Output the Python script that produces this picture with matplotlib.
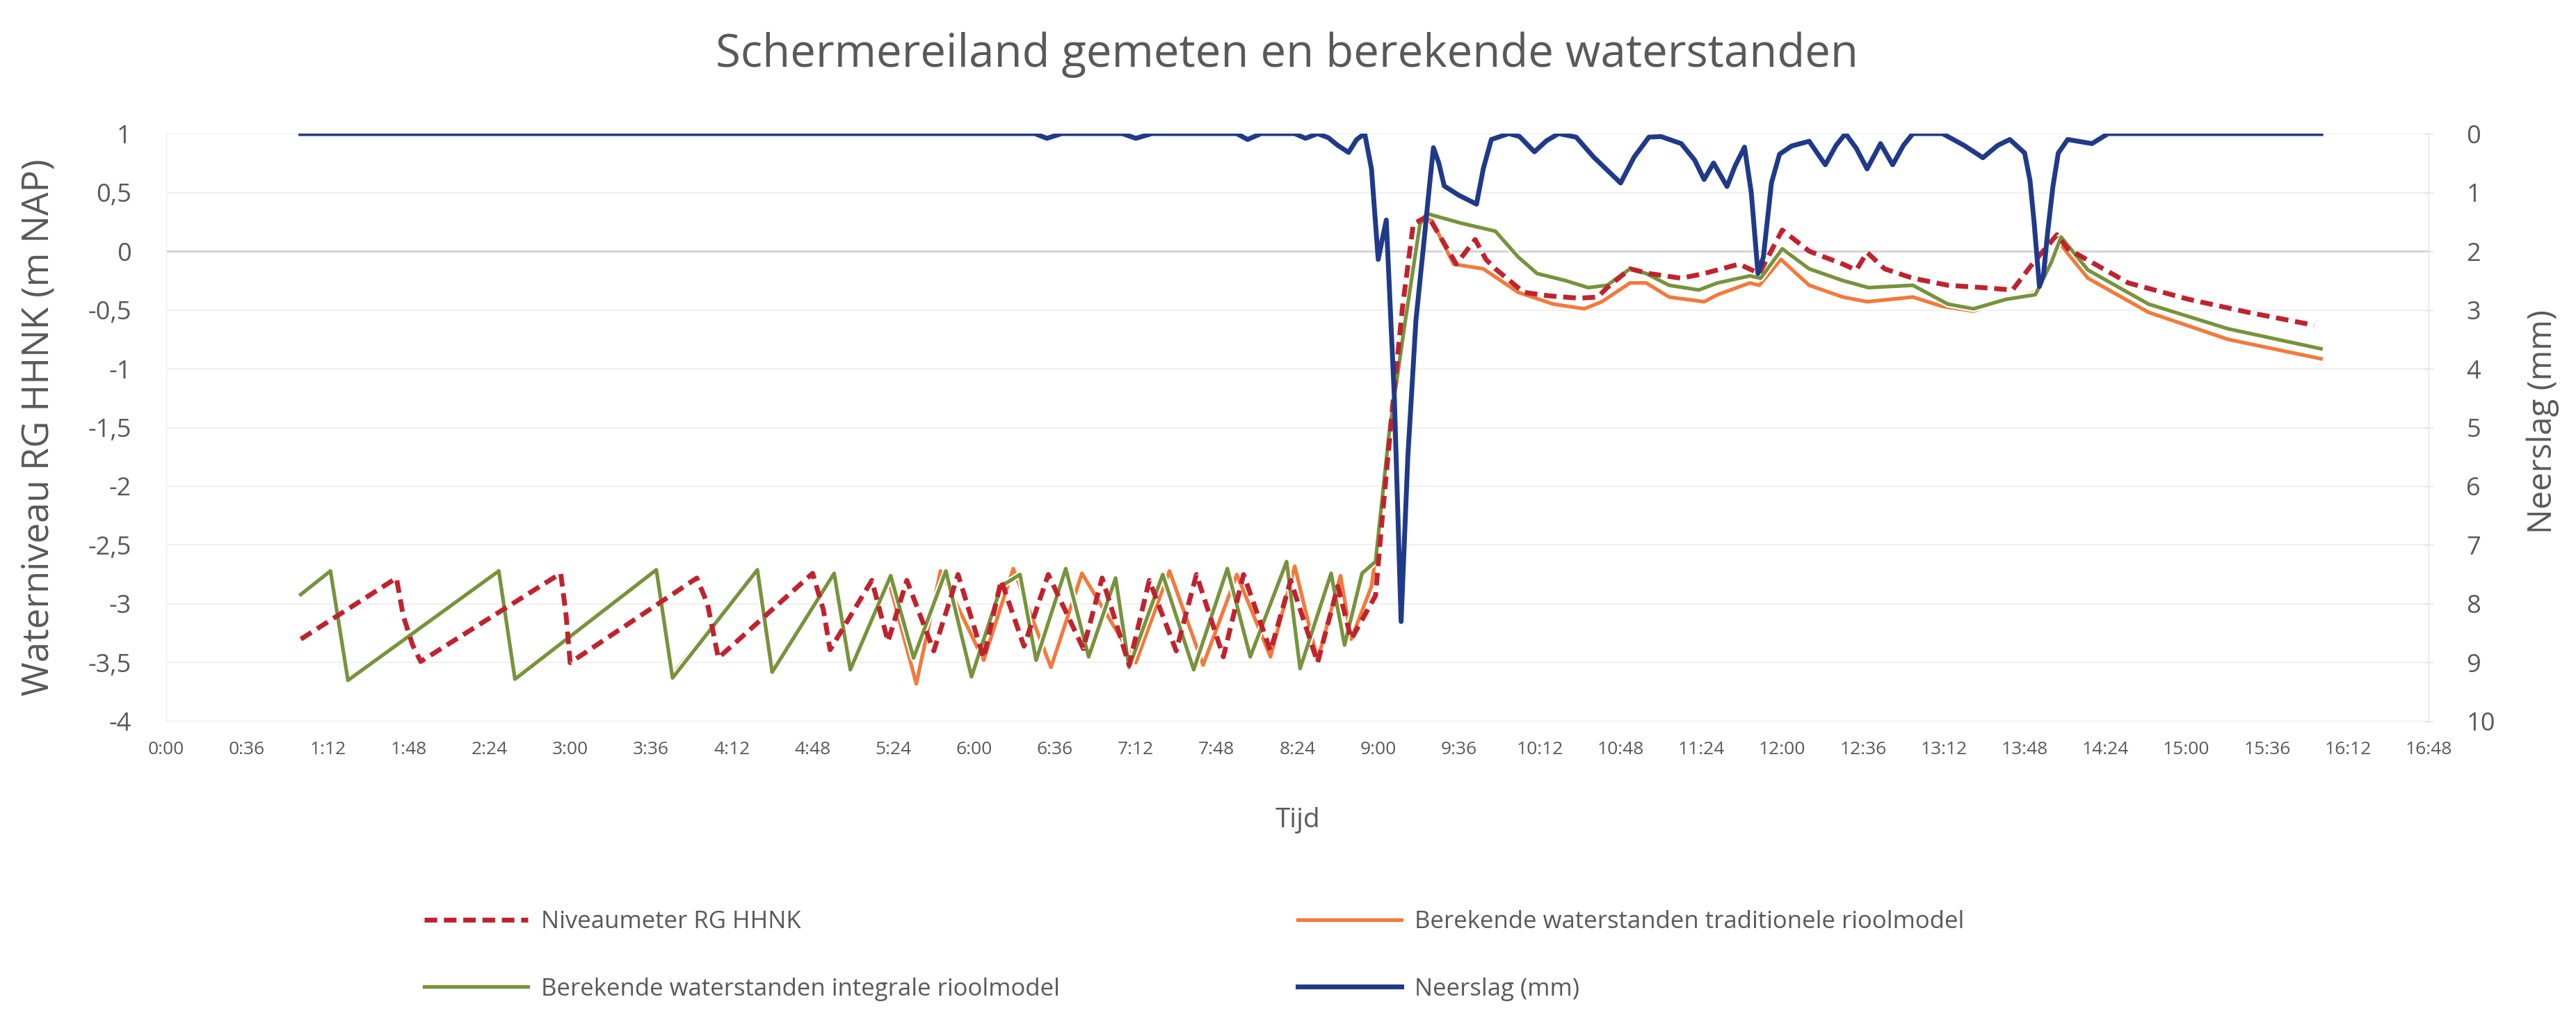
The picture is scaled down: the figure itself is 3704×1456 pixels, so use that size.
import matplotlib
matplotlib.use("Agg")
import matplotlib.pyplot as plt
import matplotlib.patheffects as pe

# tijd in uren vanaf 0:00, waterniveau in m NAP, neerslag in mm
niveau_t = [1.00, 1.71, 1.76, 1.83, 1.89, 2.93, 2.97, 3.00, 3.94, 4.02, 4.10, 4.80, 4.88, 4.93,
            5.24, 5.36, 5.50, 5.70, 5.88, 6.07, 6.20, 6.37, 6.55, 6.81, 6.95, 7.15, 7.30, 7.50,
            7.65, 7.85, 8.00, 8.20, 8.35, 8.55, 8.70, 8.80, 8.98, 9.03, 9.10, 9.18, 9.26, 9.37,
            9.58, 9.72, 9.80, 9.87, 10.08, 10.27, 10.49, 10.63, 10.70, 10.87, 11.01, 11.25, 11.42,
            11.68, 11.83, 12.00, 12.20, 12.45, 12.55, 12.63, 12.76, 12.97, 13.23, 13.49, 13.71,
            13.87, 14.04, 14.12, 14.57, 15.02, 15.46, 15.95]
niveau_v = [-3.30, -2.78, -3.10, -3.35, -3.49, -2.74, -3.10, -3.50, -2.78, -3.00, -3.46, -2.74, -3.05, -3.39,
            -2.80, -3.32, -2.80, -3.40, -2.75, -3.46, -2.80, -3.36, -2.75, -3.38, -2.78, -3.52, -2.80, -3.40,
            -2.75, -3.45, -2.75, -3.40, -2.80, -3.50, -2.85, -3.30, -2.93, -2.27, -1.40, -0.48, 0.23, 0.30,
            -0.11, 0.10, -0.07, -0.15, -0.35, -0.38, -0.40, -0.39, -0.31, -0.15, -0.19, -0.23, -0.19,
            -0.11, -0.19, 0.18, 0.00, -0.11, -0.16, -0.01, -0.15, -0.23, -0.29, -0.31, -0.33,
            -0.09, 0.14, 0.02, -0.27, -0.41, -0.52, -0.63]

trad_t = [1.00, 1.22, 1.35, 2.47, 2.59, 3.64, 3.76, 4.39, 4.50, 4.96, 5.08, 5.36, 5.57, 5.75,
          6.07, 6.29, 6.57, 6.80, 7.20, 7.45, 7.70, 7.95, 8.20, 8.38, 8.55, 8.72, 8.80, 8.95,
          9.05, 9.20, 9.31, 9.39, 9.56, 9.78, 10.04, 10.30, 10.53, 10.66, 10.87, 10.99, 11.16,
          11.42, 11.52, 11.76, 11.83, 11.99, 12.20, 12.45, 12.63, 12.97, 13.19, 13.42, 13.66,
          13.88, 14.00, 14.05, 14.27, 14.72, 15.31, 16.00]
trad_v = [-2.93, -2.73, -3.64, -2.73, -3.62, -2.72, -3.60, -2.72, -3.56, -2.75, -3.55, -2.78, -3.68, -2.72,
          -3.48, -2.70, -3.54, -2.74, -3.50, -2.72, -3.52, -2.75, -3.45, -2.68, -3.48, -2.76, -3.30, -2.85,
          -2.00, -0.50, 0.20, 0.28, -0.11, -0.15, -0.35, -0.45, -0.49, -0.43, -0.27, -0.27, -0.39,
          -0.43, -0.37, -0.27, -0.29, -0.07, -0.29, -0.39, -0.43, -0.39, -0.47, -0.51, -0.41,
          -0.35, -0.05, 0.08, -0.23, -0.52, -0.75, -0.915]

integraal_t = [1.00, 1.22, 1.35, 2.47, 2.59, 3.64, 3.76, 4.39, 4.50, 4.96, 5.08, 5.38, 5.55, 5.79,
               5.98, 6.20, 6.34, 6.46, 6.68, 6.85, 7.05, 7.15, 7.40, 7.63, 7.88, 8.05, 8.32, 8.42,
               8.65, 8.75, 8.88, 8.98, 9.08, 9.20, 9.31, 9.36, 9.61, 9.87, 10.04, 10.18, 10.39,
               10.56, 10.70, 10.87, 10.99, 11.16, 11.38, 11.52, 11.76, 11.84, 12.00, 12.20, 12.45,
               12.64, 12.97, 13.23, 13.42, 13.66, 13.88, 14.00, 14.07, 14.27, 14.72, 15.31, 16.00]
integraal_v = [-2.92, -2.72, -3.65, -2.72, -3.64, -2.71, -3.63, -2.71, -3.58, -2.74, -3.56, -2.76, -3.46, -2.72,
               -3.62, -2.85, -2.75, -3.48, -2.70, -3.45, -2.78, -3.54, -2.75, -3.56, -2.70, -3.45, -2.64, -3.55,
               -2.74, -3.35, -2.74, -2.64, -1.56, -0.60, 0.23, 0.32, 0.24, 0.17, -0.05, -0.19, -0.25,
               -0.31, -0.29, -0.15, -0.19, -0.29, -0.33, -0.27, -0.21, -0.23, 0.02, -0.15, -0.25,
               -0.31, -0.29, -0.45, -0.49, -0.41, -0.37, -0.09, 0.12, -0.16, -0.45, -0.66, -0.83]

neerslag_t = [1.00, 5.80, 6.45, 6.54, 6.65, 7.10, 7.20, 7.32, 7.95, 8.03, 8.13, 8.38, 8.46, 8.55,
              8.63, 8.70, 8.78, 8.84, 8.90, 8.95, 9.00, 9.03, 9.06, 9.12, 9.17, 9.22, 9.28, 9.34,
              9.38, 9.41, 9.45, 9.49, 9.60, 9.73, 9.78, 9.84, 9.97, 10.05, 10.16, 10.25, 10.34,
              10.47, 10.60, 10.80, 10.90, 11.01, 11.10, 11.25, 11.35, 11.42, 11.49, 11.59, 11.65,
              11.72, 11.77, 11.82, 11.86, 11.92, 11.98, 12.07, 12.20, 12.32, 12.40, 12.47, 12.55,
              12.63, 12.73, 12.82, 12.90, 12.97, 13.19, 13.35, 13.49, 13.60, 13.69, 13.80, 13.84,
              13.87, 13.91, 13.94, 13.97, 14.01, 14.05, 14.12, 14.30, 14.42, 16.00]
neerslag_mm = [0.0, 0.0, 0.0, 0.08, 0.0, 0.0, 0.08, 0.0, 0.0, 0.1, 0.0, 0.0, 0.08, 0.0,
               0.07, 0.2, 0.32, 0.1, 0.0, 0.6, 2.14, 1.8, 1.47, 4.5, 8.3, 5.5, 3.18, 1.83,
               0.9, 0.24, 0.5, 0.89, 1.05, 1.2, 0.6, 0.1, 0.0, 0.05, 0.31, 0.12, 0.0,
               0.06, 0.4, 0.84, 0.4, 0.06, 0.05, 0.17, 0.45, 0.78, 0.5, 0.9, 0.55,
               0.23, 1.0, 2.38, 2.1, 0.84, 0.35, 0.21, 0.13, 0.53, 0.2, 0.0, 0.25,
               0.6, 0.17, 0.53, 0.2, 0.0, 0.0, 0.2, 0.41, 0.2, 0.1, 0.33, 0.8,
               1.5, 2.6, 2.4, 1.7, 0.9, 0.33, 0.1, 0.17, 0.0, 0.0]

tijd_labels = ["0:00", "0:36", "1:12", "1:48", "2:24", "3:00", "3:36", "4:12", "4:48", "5:24",
               "6:00", "6:36", "7:12", "7:48", "8:24", "9:00", "9:36", "10:12", "10:48", "11:24",
               "12:00", "12:36", "13:12", "13:48", "14:24", "15:00", "15:36", "16:12", "16:48"]
links_ticks = [1, 0.5, 0, -0.5, -1, -1.5, -2, -2.5, -3, -3.5, -4]
links_labels = ["1", "0,5", "0", "-0,5", "-1", "-1,5", "-2", "-2,5", "-3", "-3,5", "-4"]
rechts_ticks = [0, 1, 2, 3, 4, 5, 6, 7, 8, 9, 10]

grijs = "#595959"
plt.rcParams["font.family"] = ["Open Sans", "DejaVu Sans"]

fig = plt.figure(figsize=(37.04, 14.56), dpi=100)
ax = fig.add_axes([0.0645, 0.2878, 0.8783, 0.5803])
ax2 = ax.twinx()

wit = [pe.withStroke(linewidth=7, foreground="white")]
l_trad, = ax.plot(trad_t, trad_v, color="#F4793B", lw=3.8, zorder=2, path_effects=wit)
l_int, = ax.plot(integraal_t, integraal_v, color="#77933C", lw=3.8, zorder=3, path_effects=wit)
l_niv, = ax.plot(niveau_t, niveau_v, color="#C0222E", lw=5, dashes=(2.6, 1.4), zorder=4)
l_neer, = ax2.plot(neerslag_t, neerslag_mm, color="#1F3A8A", lw=5, zorder=5)

ax.set_xlim(0, 16.8)
ax.set_ylim(-4, 1)
ax2.set_ylim(10, 0)

ax.set_xticks([i * 0.6 for i in range(len(tijd_labels))])
ax.set_xticklabels(tijd_labels)
ax.set_yticks(links_ticks)
ax.set_yticklabels(links_labels)
ax2.set_yticks(rechts_ticks)

for y in links_ticks:
    ax.axhline(y, color="#f0f0f0", lw=1.5, zorder=0)
ax.axhline(0, color="#d2d2d2", lw=2, zorder=1)

ax.tick_params(axis="x", length=0, pad=20, labelsize=19, labelcolor=grijs)
ax.tick_params(axis="y", length=0, pad=36, labelsize=26, labelcolor=grijs)
ax2.tick_params(axis="y", direction="inout", length=10, width=1, color="#e3e3e3",
                pad=34, labelsize=26, labelcolor=grijs)

for a in (ax, ax2):
    for s in ("top", "bottom"):
        a.spines[s].set_visible(False)
    a.spines["left"].set_color("#ececec")
    a.spines["right"].set_color("#e3e3e3")

ax.set_ylabel("Waterniveau RG HHNK (m NAP)", fontsize=38, color=grijs)
ax.yaxis.set_label_coords(-0.048, 0.5)
ax2.set_ylabel("Neerslag (mm)", fontsize=34, color=grijs, rotation=90)
ax2.yaxis.set_label_coords(1.0433, 0.51)
ax.set_xlabel("Tijd", fontsize=28, color=grijs)
ax.xaxis.set_label_coords(0.5, -0.146)

fig.suptitle("Schermereiland gemeten en berekende waterstanden", fontsize=47,
             color=grijs, x=0.4995, y=0.946, va="center")

opts = dict(loc="upper left", frameon=False, fontsize=25, labelcolor=grijs,
            handlelength=4.3, handletextpad=0.55, labelspacing=1.8,
            borderpad=0, borderaxespad=0)
fig.legend([l_niv, l_int],
           ["Niveaumeter RG HHNK", "Berekende waterstanden integrale rioolmodel"],
           bbox_to_anchor=(0.1647, 0.1016), **opts)
fig.legend([l_trad, l_neer],
           ["Berekende waterstanden traditionele rioolmodel", "Neerslag (mm)"],
           bbox_to_anchor=(0.5038, 0.1016), **opts)

fig.savefig("out.png", dpi=100)
